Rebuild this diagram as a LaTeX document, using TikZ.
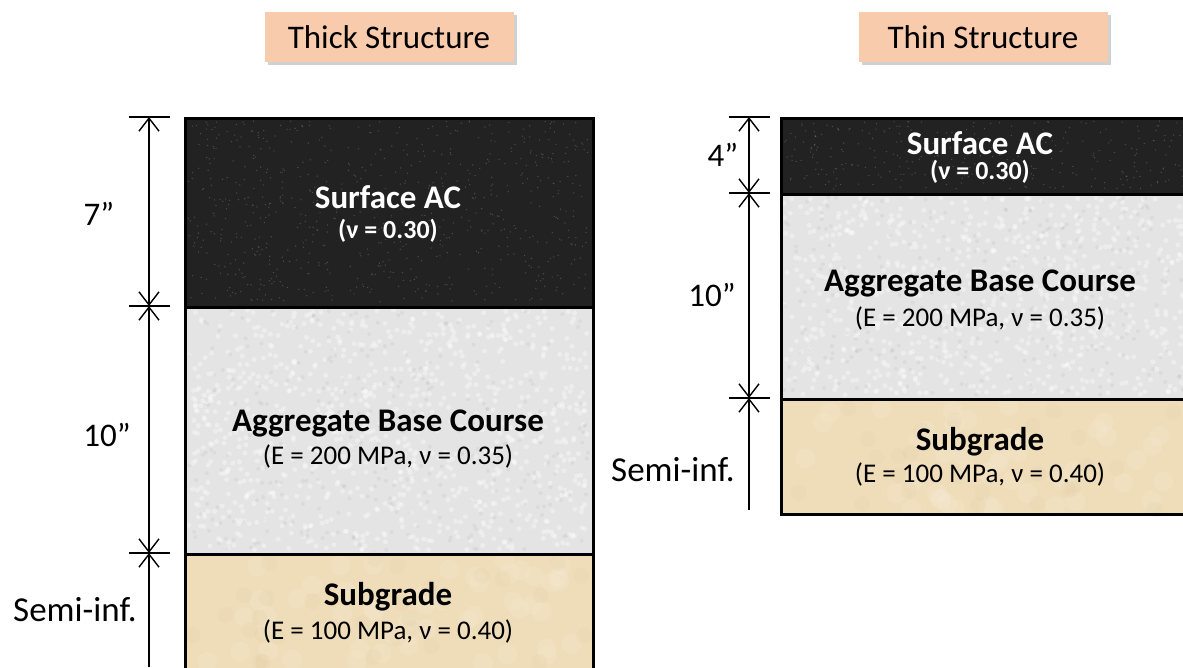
\documentclass[tikz,border=0pt]{standalone}
\usepackage{fontspec}
\setmainfont{Carlito}
\usetikzlibrary{arrows.meta,shadows}
\definecolor{peach}{HTML}{F8CBAD}
\definecolor{acdark}{HTML}{222222}
\definecolor{basegrey}{HTML}{E4E4E4}
\definecolor{subtan}{HTML}{EFDDB9}
\definecolor{tandark}{HTML}{C8A878}
\newcommand\speckle[8]{%
  \foreach \i in {1,...,#5}{%
    \pgfmathsetmacro\xx{#1+#3*rnd}%
    \pgfmathsetmacro\yy{#2+#4*rnd}%
    \fill[#6,opacity=#7] (\xx,\yy) circle (#8);}}
\begin{document}
\begin{tikzpicture}[x=1pt,y=-1pt,
  layer/.style={draw=black, line width=2.8pt, anchor=north west, inner sep=0pt},
  border/.style={draw=black, line width=2.8pt, fill=none, anchor=north west, inner sep=0pt},
  titlebox/.style={fill=peach, minimum width=249pt, minimum height=50pt, inner sep=0pt,
    font=\fontsize{33}{36}\selectfont,
    drop shadow={shadow xshift=3pt, shadow yshift=-3pt, opacity=0.3, fill=black!60}},
  tickline/.style={line width=1.4pt},
  barb/.tip={Straight Barb[length=13pt,width=20pt,line width=1.4pt]},
  dimboth/.style={line width=1.4pt, {barb}-{barb}},
  dimup/.style={line width=1.4pt, {barb}-},
  dimlabel/.style={font=\fontsize{33}{36}\selectfont},
  semilabel/.style={font=\fontsize{35}{38}\selectfont},
  head/.style={font=\bfseries\fontsize{33}{36}\selectfont},
  sub/.style={font=\fontsize{27}{30}\selectfont},
  subb/.style={font=\bfseries\fontsize{26}{29}\selectfont}
]
\useasboundingbox (0,0) rectangle (1183,667);
\clip (0,0) rectangle (1183,667);
\pgfmathsetseed{4242}

% ---------- titles ----------
\node[titlebox] (thickT) at (389,37) {Thick Structure};
\node[titlebox] (thinT) at (983,37) {Thin Structure};

% ---------- thick structure layers ----------
\node[layer, fill=subtan, minimum width=408pt, minimum height=140pt] (tSG) at (184,553) {};
\node[layer, fill=basegrey, minimum width=408pt, minimum height=247pt] (tBase) at (184,306) {};
\node[layer, fill=acdark, minimum width=408pt, minimum height=189pt] (tAC) at (184,117) {};
\speckle{188}{121}{400}{181}{700}{white}{0.2}{0.7pt}
\speckle{188}{310}{400}{240}{900}{white}{0.35}{2.5pt}
\speckle{188}{310}{400}{240}{300}{black}{0.04}{2pt}
\speckle{190}{558}{395}{105}{50}{white}{0.09}{10pt}
\speckle{190}{558}{395}{105}{30}{tandark}{0.06}{8pt}
\node[border, minimum width=408pt, minimum height=189pt] (tACb0) at (184,117) {};
\node[border, minimum width=408pt, minimum height=247pt] (tBb0) at (184,306) {};
\node[border, minimum width=408pt, minimum height=140pt] (tSb0) at (184,553) {};

\node[head, text=white] (tACa) at (388,197) {Surface AC};
\node[subb, text=white] (tACb) at (388,231) {(ν = 0.30)};
\node[head] (tBa) at (388,423) {Aggregate Base Course};
\node[sub] (tBb) at (388,456) {(E = 200 MPa, ν = 0.35)};
\node[head] (tSa) at (388,597) {Subgrade};
\node[sub] (tSb) at (388,631) {(E = 100 MPa, ν = 0.40)};

% ---------- thick dimensions ----------
\coordinate (d0) at (149,117);
\coordinate (d1) at (149,306);
\coordinate (d2) at (149,553);
\coordinate (d3) at (149,667);
\foreach \c in {d0,d1,d2}
  \draw[tickline] ([xshift=-20pt]\c) -- ([xshift=21pt]\c);
\draw[dimboth] (d0) -- (d1);
\draw[dimboth] (d1) -- (d2);
\draw[dimup] (d2) -- (d3);
\node[dimlabel] (l7) at (99,214) {7”};
\node[dimlabel] (l10) at (107,435) {10”};
\node[semilabel] (lsi) at (75,610) {Semi-inf.};

% ---------- thin structure layers ----------
\node[layer, fill=subtan, minimum width=415pt, minimum height=115pt] (nSG) at (780,398) {};
\node[layer, fill=basegrey, minimum width=415pt, minimum height=205pt] (nBase) at (780,193) {};
\node[layer, fill=acdark, minimum width=415pt, minimum height=76pt] (nAC) at (780,117) {};
\speckle{784}{121}{400}{68}{300}{white}{0.2}{0.7pt}
\speckle{784}{197}{400}{198}{750}{white}{0.35}{2.5pt}
\speckle{784}{197}{400}{198}{250}{black}{0.04}{2pt}
\speckle{786}{402}{395}{108}{45}{white}{0.09}{10pt}
\speckle{786}{402}{395}{108}{25}{tandark}{0.06}{8pt}
\node[border, minimum width=415pt, minimum height=76pt] (nACb0) at (780,117) {};
\node[border, minimum width=415pt, minimum height=205pt] (nBb0) at (780,193) {};
\node[border, minimum width=415pt, minimum height=115pt] (nSb0) at (780,398) {};

\node[head, text=white] (nACa) at (980,143) {Surface AC};
\node[subb, text=white] (nACb) at (980,172) {(ν = 0.30)};
\node[head] (nBa) at (980,283) {Aggregate Base Course};
\node[sub] (nBb) at (980,318) {(E = 200 MPa, ν = 0.35)};
\node[head] (nSa) at (980,442) {Subgrade};
\node[sub] (nSb) at (980,474) {(E = 100 MPa, ν = 0.40)};

% ---------- thin dimensions ----------
\coordinate (e0) at (749,117);
\coordinate (e1) at (749,193);
\coordinate (e2) at (749,398);
\coordinate (e3) at (749,510);
\foreach \c in {e0,e1,e2}
  \draw[tickline] ([xshift=-20pt]\c) -- ([xshift=21pt]\c);
\draw[dimboth] (e0) -- (e1);
\draw[dimboth] (e1) -- (e2);
\draw[dimup] (e2) -- (e3);
\node[dimlabel] (l4) at (723,155) {4”};
\node[dimlabel] (l10b) at (712,295) {10”};
\node[semilabel] (lsib) at (673,470) {Semi-inf.};
\end{tikzpicture}
\end{document}
